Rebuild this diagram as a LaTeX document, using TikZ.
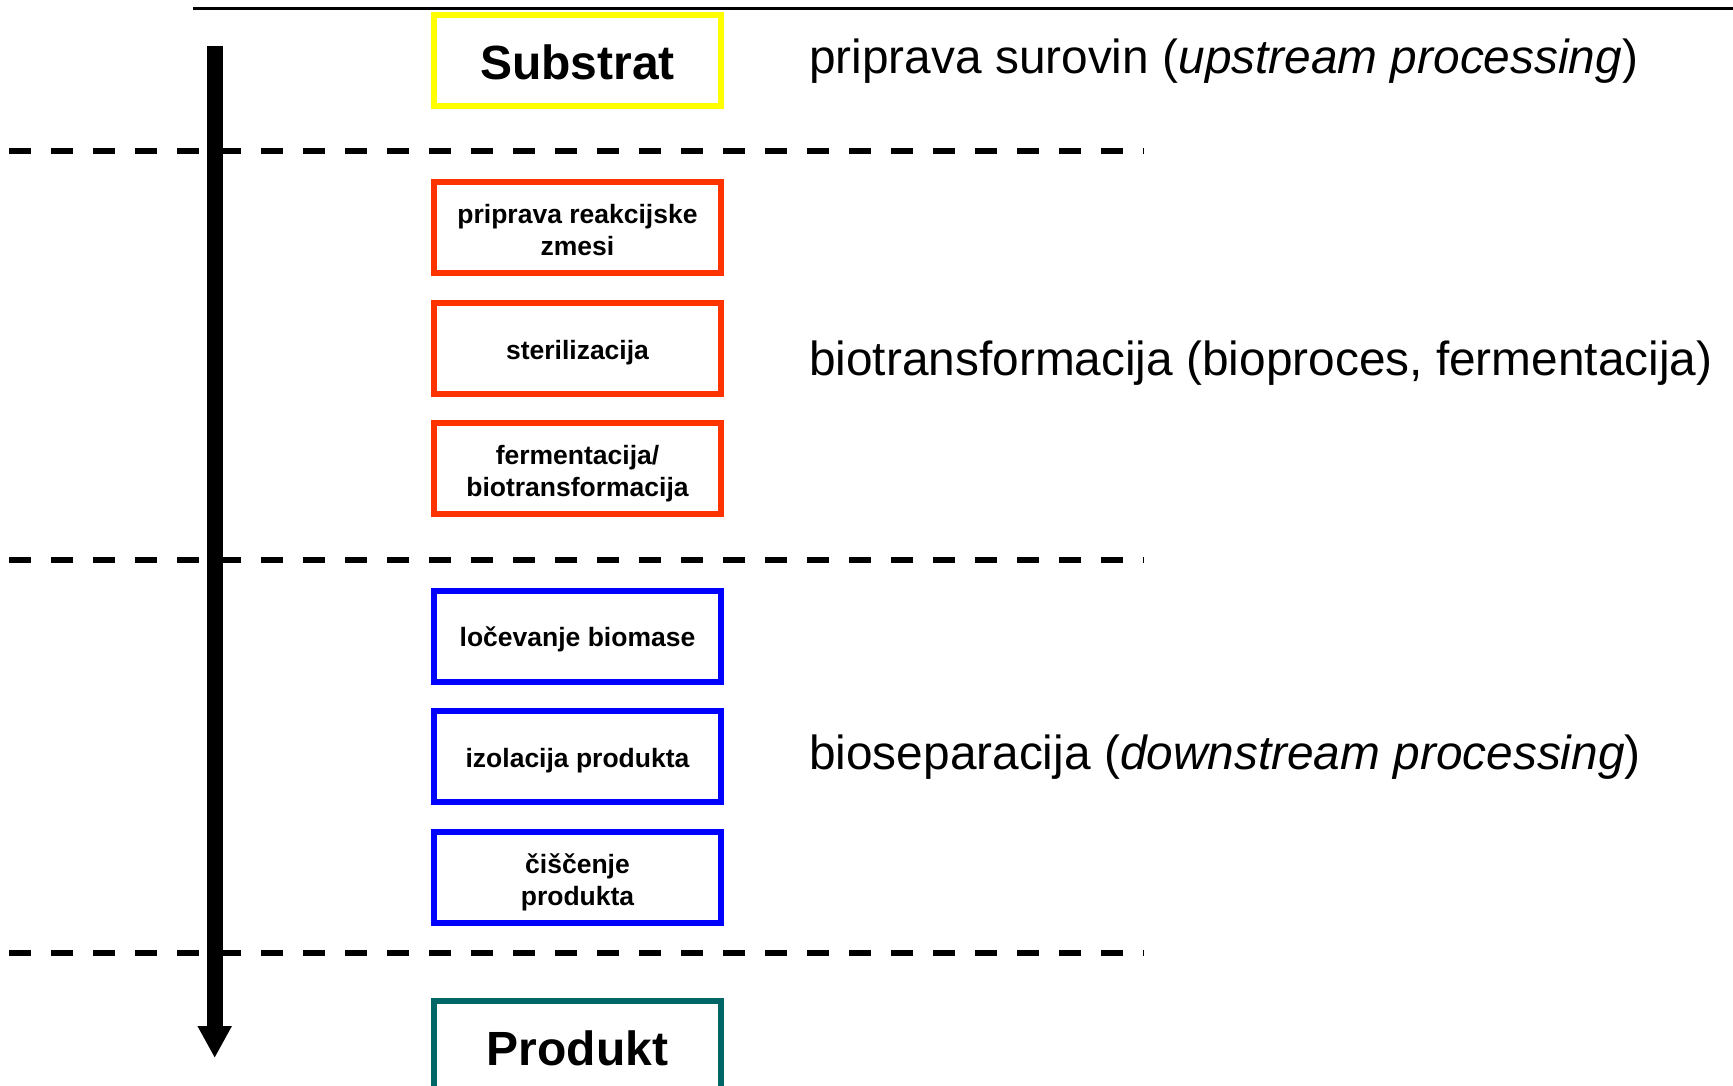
\documentclass[tikz,border=0pt]{standalone}
\usepackage{fontspec}
\setmainfont{Liberation Sans}
\usetikzlibrary{arrows.meta}
\definecolor{cyellow}{HTML}{FFFF00}
\definecolor{cred}{HTML}{FF3300}
\definecolor{cblue}{HTML}{0000FF}
\definecolor{cteal}{HTML}{006666}
% strut that lowers the first line of a two-line step label
\newcommand{\firstline}[1][29pt]{\rule{0pt}{#1}}
\begin{document}
\begin{tikzpicture}[x=1pt,y=-1pt,
  boxbase/.style={draw, line width=6pt, rectangle, minimum width=287pt, minimum height=91pt,
    align=center, inner sep=0pt, font=\fontsize{26.5}{32}\selectfont\bfseries},
  stepbox/.style={boxbase, execute at begin node={\rule{0pt}{26.6pt}}},
  twobox/.style={boxbase},
  bigbox/.style={boxbase, font=\fontsize{48}{56}\selectfont\bfseries,
    execute at begin node={\rule{0pt}{38.5pt}}},
  phase/.style={anchor=west, inner sep=0pt, font=\fontsize{47.8}{57}\selectfont},
  divider/.style={line width=5.5pt, dash pattern=on 22pt off 20pt}]
\useasboundingbox (0,0) rectangle (1733,1086);
\clip (0,0) rectangle (1733,1086);

% top rule
\coordinate (ruleL) at (193,9);
\coordinate (ruleR) at (1733,9);
\draw[line width=3pt] (ruleL) -- (ruleR);

% phase dividers
\foreach \y [count=\i] in {151,560,953} {
  \coordinate (dL\i) at (9,\y);
  \coordinate (dR\i) at (1144,\y);
  \draw[divider] (dL\i) -- (dR\i);
}

% process direction
\coordinate (flowTop) at (214.7,46);
\coordinate (flowEnd) at (214.7,1058);
\draw[line width=16pt, -{Triangle[width=32pt,length=32pt]}] (flowTop) -- (flowEnd);

% process steps
\node[bigbox, draw=cyellow] (substrat) at (577.5,60.8) {Substrat};
\node[twobox, draw=cred] (mix) at (577.5,227.1) {\firstline[24.6pt]priprava reakcijske\\zmesi};
\node[stepbox, draw=cred] (steril) at (577.5,348.5) {sterilizacija};
\node[twobox, draw=cred] (ferm) at (577.5,468.6) {\firstline fermentacija/\\biotransformacija};
\node[stepbox, draw=cblue] (biomass) at (577.5,636) {ločevanje biomase};
\node[stepbox, draw=cblue] (isol) at (577.5,756.5) {izolacija produkta};
\node[twobox, draw=cblue] (purif) at (577.5,877.5) {\firstline čiščenje\\produkta};
\node[bigbox, draw=cteal] (produkt) at (577.5,1046.5) {Produkt};

% phase labels
\node[phase] (up) at (809,61.5) {priprava surovin (\textit{upstream processing})};
\node[phase] (bio) at (809,363.5) {biotransformacija (bioproces, fermentacija)};
\node[phase] (down) at (809,757.5) {bioseparacija (\textit{downstream processing})};
\end{tikzpicture}
\end{document}
